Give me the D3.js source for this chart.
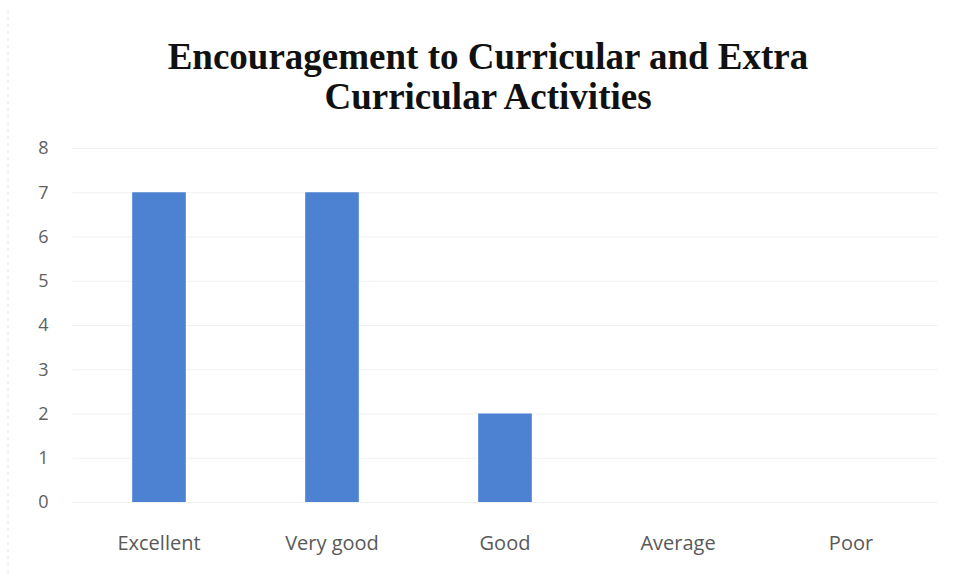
<!DOCTYPE html>
<html><head><meta charset="utf-8">
<script src="https://cdn.jsdelivr.net/npm/d3@7"></script>
<style>body{margin:0;background:#fff}svg{display:block}</style>
</head><body><svg id="c" width="959" height="580"></svg>
<script>
const categories = ["Excellent","Very good","Good","Average","Poor"];
const values = [7,7,2,0,0];
const yTicks = [0,1,2,3,4,5,6,7,8];
const titleLines = ["Encouragement to Curricular and Extra","Curricular Activities"];

const svg = d3.select("#c");
const W=959,H=580;
const m={left:72.5,right:21.5,top:148,bottom:78};
const x=d3.scaleBand().domain(categories).range([m.left,W-m.right]).paddingInner(0.69).paddingOuter(0.345);
const y=d3.scaleLinear().domain([0,8]).range([502,148]);

svg.append("rect").attr("width",W).attr("height",H).attr("fill","#fff");
svg.append("line").attr("x1",8).attr("x2",8).attr("y1",10).attr("y2",575).attr("stroke","#e4e4e4").attr("stroke-dasharray","3,4");

const t=svg.append("text").attr("text-anchor","middle").attr("font-family","'Liberation Serif','Times New Roman',serif").attr("font-weight","bold").attr("font-size",37).attr("fill","#111");
titleLines.forEach((l,i)=>t.append("tspan").attr("x",488).attr("y",69+i*40).text(l));

const ga=svg.append("g").attr("transform",`translate(${m.left},0)`).call(d3.axisLeft(y).tickValues(yTicks).tickSize(-(W-m.left-m.right)).tickPadding(24).tickFormat(d3.format("d")));
ga.select(".domain").remove();
ga.selectAll(".tick line").attr("stroke","#f1f1f1");
ga.selectAll(".tick text").attr("font-family","'Open Sans',sans-serif").attr("font-size",18).attr("fill","#606060");

svg.selectAll(".bar").data(values).join("rect").attr("class","bar")
 .attr("x",(d,i)=>x(categories[i])).attr("width",x.bandwidth())
 .attr("y",d=>y(d)).attr("height",d=>y(0)-y(d)).attr("fill","#4d82d3");

const gx=svg.append("g").attr("transform",`translate(0,${y(0)})`).call(d3.axisBottom(x).tickSize(0).tickPadding(34));
gx.select(".domain").remove();
gx.selectAll(".tick text").attr("font-family","'Open Sans',sans-serif").attr("font-size",20).attr("fill","#595959");
</script></body></html>
